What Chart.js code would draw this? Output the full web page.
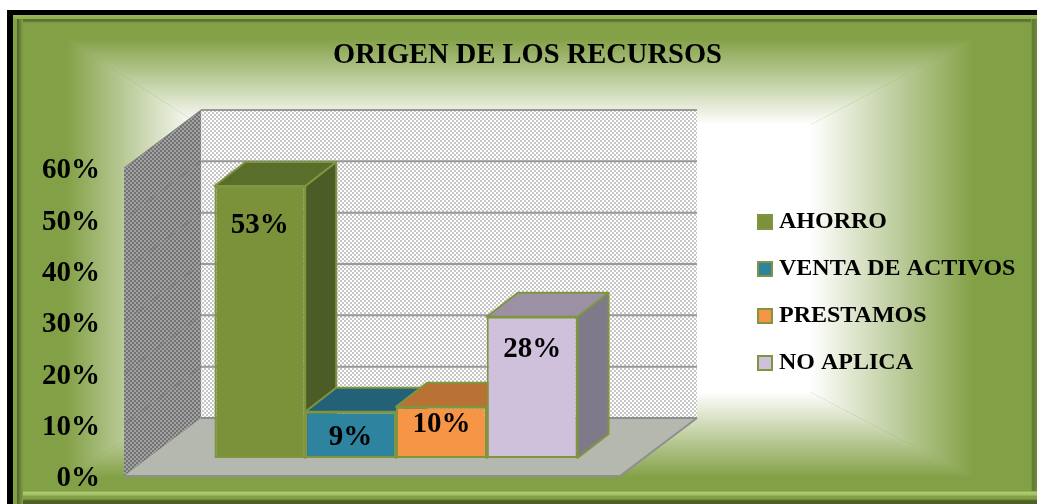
<!DOCTYPE html>
<html><head><meta charset="utf-8">
<style>html,body{margin:0;padding:0;background:#fff}canvas{display:block}#w{position:relative;width:1037px;height:504px;overflow:hidden}</style>
<script src="https://cdn.jsdelivr.net/npm/chart.js@4"></script>
</head><body><div id="w"><canvas id="c" width="1037" height="504"></canvas></div>
<script>
const titleText = 'ORIGEN DE LOS RECURSOS';
const categories = [''];
const seriesNames = ['AHORRO', 'VENTA DE ACTIVOS', 'PRESTAMOS', 'NO APLICA'];
const ahorro = [53];
const ventaDeActivos = [9];
const prestamos = [10];
const noAplica = [27.5];
const seriesValues = [ahorro, ventaDeActivos, prestamos, noAplica];
const frontColors = ['#7B923B', '#2E849E', '#F79546', '#CFC1DB'];
const topColors = ['#5A6E2C', '#226177', '#B97233', '#9C91A4'];
const sideColors = ['#4C5C26', '#1C5163', '#96602B', '#7F7A8A'];
const labelDrops = [40, 26, 18, 33];
const FONT = '"Liberation Serif", serif';

const swatch = (fill) => {
  const s = document.createElement('canvas'); s.width = 16; s.height = 16;
  const g = s.getContext('2d');
  g.fillStyle = '#7F953F'; g.fillRect(0, 0, 16, 16);
  g.fillStyle = fill; g.fillRect(2, 2, 12, 12);
  return s;
};
const checker = (a, b, n) => {
  const s = document.createElement('canvas'); s.width = 2 * n; s.height = 2 * n;
  const g = s.getContext('2d');
  g.fillStyle = a; g.fillRect(0, 0, 2 * n, 2 * n);
  g.fillStyle = b; g.fillRect(0, 0, n, n); g.fillRect(n, n, n, n);
  return s;
};
const poly = (ctx, pts) => {
  ctx.beginPath(); pts.forEach((p, i) => i ? ctx.lineTo(p[0], p[1]) : ctx.moveTo(p[0], p[1])); ctx.closePath();
};

const GREEN = '#82A045';
const sceneBg = {
  id: 'sceneBg',
  beforeDraw(chart) {
    const ctx = chart.ctx;
    ctx.save();
    ctx.fillStyle = '#fff'; ctx.fillRect(0, 0, 1037, 504);
    ctx.fillStyle = '#000'; ctx.fillRect(7, 10, 1030, 494);
    ctx.fillStyle = GREEN; ctx.fillRect(13, 15, 1024, 489);
    const W = {l: 200, t: 125, r: 810, b: 392}, O = {l: 65, t: 38, r: 975, b: 478};
    const ext = (wx, wy, ox, oy) => [wx + (ox - wx) * 3, wy + (oy - wy) * 3];
    const tl = ext(W.l, W.t, O.l, O.t), tr = ext(W.r, W.t, O.r, O.t), bl = ext(W.l, W.b, O.l, O.b), br = ext(W.r, W.b, O.r, O.b);
    const sector = (pts, x0, y0, x1, y1) => {
      const g = ctx.createLinearGradient(x0, y0, x1, y1);
      g.addColorStop(0, GREEN); g.addColorStop(1, '#FFFFFF');
      ctx.fillStyle = g; poly(ctx, pts); ctx.fill();
    };
    ctx.save(); ctx.beginPath(); ctx.rect(13, 15, 1024, 489); ctx.clip();
    sector([tl, tr, [W.r, W.t], [W.l, W.t]], 0, O.t, 0, W.t);
    sector([bl, br, [W.r, W.b], [W.l, W.b]], 0, O.b, 0, W.b);
    sector([tl, bl, [W.l, W.b], [W.l, W.t]], O.l, 0, W.l, 0);
    sector([tr, br, [W.r, W.b], [W.r, W.t]], O.r, 0, W.r, 0);
    ctx.fillStyle = '#fff'; ctx.fillRect(W.l - .5, W.t - .5, W.r - W.l + 1, W.b - W.t + 1);
    ctx.restore();
    // bevel
    const band = (x, y, w, h, stops, vert) => {
      const g = vert ? ctx.createLinearGradient(0, y, 0, y + h) : ctx.createLinearGradient(x, 0, x + w, 0);
      stops.forEach(s => g.addColorStop(s[0], s[1]));
      ctx.fillStyle = g; ctx.fillRect(x, y, w, h);
    };
    band(13, 15, 1024, 8, [[0, '#9BBA54'], [.45, '#8FAE4E'], [.6, '#4F6129'], [1, '#82A045']], true);
    band(13, 19, 10, 485, [[0, GREEN], [.35, GREEN], [.4, '#4F6129'], [1, GREEN]], false);
    band(1031, 19, 6, 485, [[0, GREEN], [.3, '#5F7833'], [1, '#6F8A3B']], false);
    band(23, 491, 1014, 13, [[0, GREEN], [.1, '#AFCB75'], [.3, '#A2BF66'], [.4, GREEN], [.6, GREEN], [.75, '#4F6129'], [1, '#4F6129']], true);
    ctx.restore();
  }
};

const DX = 77, DY = 58, BAR_DX = 31, BAR_DY = 24, SHIFT_X = 24, SHIFT_Y = 18;
const scene3d = {
  id: 'scene3d',
  afterLayout(chart) {
    const lg = chart.legend;
    lg.left = 740; lg.right = 1037;
    lg.top = 187; lg.bottom = 504;
  },
  beforeDatasetsDraw(chart) {
    const ctx = chart.ctx, x = chart.scales.x, y = chart.scales.y;
    const L = x.left, R = x.right, y0 = y.getPixelForValue(0), y60 = y.getPixelForValue(60);
    ctx.save();
    // side wall
    ctx.fillStyle = ctx.createPattern(checker('#737373', '#A2A2A2', 2), 'repeat');
    poly(ctx, [[L, y0], [L, y60], [L + DX, y60 - DY], [L + DX, y0 - DY]]); ctx.fill();
    // back wall
    ctx.fillStyle = ctx.createPattern(checker('#FFFFFF', '#C6C6C6', 2), 'repeat');
    ctx.fillRect(L + DX, y60 - DY, R - L, y0 - y60);
    // gridlines
    y.ticks.forEach(t => {
      const py = y.getPixelForValue(t.value);
      ctx.strokeStyle = '#808080'; ctx.lineWidth = 1;
      ctx.beginPath(); ctx.moveTo(L, py); ctx.lineTo(L + DX, py - DY); ctx.stroke();
      if (t.value === 0) return;
      ctx.strokeStyle = '#999'; ctx.lineWidth = 2;
      ctx.beginPath(); ctx.moveTo(L + DX, py - DY); ctx.lineTo(R + DX, py - DY); ctx.stroke();
    });
    // floor
    ctx.fillStyle = '#B5B8AE';
    poly(ctx, [[L, y0], [R, y0], [R + DX, y0 - DY], [L + DX, y0 - DY]]); ctx.fill();
    ctx.strokeStyle = '#8E8E8E'; ctx.lineWidth = 2;
    ctx.beginPath(); ctx.moveTo(L, y0); ctx.lineTo(R, y0); ctx.lineTo(R + DX, y0 - DY); ctx.stroke();
    ctx.beginPath(); ctx.moveTo(L + DX, y0 - DY); ctx.lineTo(R + DX, y0 - DY); ctx.stroke();
    // bar depth faces
    ctx.strokeStyle = '#7F953F'; ctx.lineWidth = 2; ctx.lineJoin = 'round';
    chart.data.datasets.forEach((d, i) => {
      const b = chart.getDatasetMeta(i).data[0];
      const l = b.x - b.width / 2 + SHIFT_X, r = b.x + b.width / 2 + SHIFT_X, t = b.y - SHIFT_Y, g = b.base - SHIFT_Y;
      ctx.fillStyle = sideColors[i];
      poly(ctx, [[r, t], [r + BAR_DX, t - BAR_DY], [r + BAR_DX, g - BAR_DY], [r, g]]); ctx.fill(); ctx.stroke();
      ctx.fillStyle = topColors[i];
      poly(ctx, [[l, t], [r, t], [r + BAR_DX, t - BAR_DY], [l + BAR_DX, t - BAR_DY]]); ctx.fill(); ctx.stroke();
    });
    ctx.restore();
    ctx.save();
    ctx.translate(SHIFT_X, -SHIFT_Y);
  },
  afterDatasetsDraw(chart) {
    const ctx = chart.ctx;
    ctx.restore();
    ctx.save();
    ctx.font = 'bold 29px ' + FONT;
    ctx.fillStyle = '#000'; ctx.textAlign = 'center'; ctx.textBaseline = 'middle';
    chart.data.datasets.forEach((d, i) => {
      const b = chart.getDatasetMeta(i).data[0];
      ctx.fillText(Math.round(d.data[0]) + '%', b.x + SHIFT_X, b.y - SHIFT_Y + labelDrops[i]);
    });
    ctx.restore();
  }
};

new Chart(document.getElementById('c'), {
  type: 'bar',
  data: {
    labels: categories,
    datasets: seriesNames.map((n, i) => ({
      label: n, data: seriesValues[i], backgroundColor: frontColors[i],
      borderColor: '#7F953F', borderWidth: 2, borderSkipped: false, barPercentage: 1, categoryPercentage: 0.732
    }))
  },
  options: {
    responsive: false, animation: false, devicePixelRatio: 1,
    layout: {padding: {left: 36, right: 18, top: 0, bottom: 28}},
    scales: {
      x: {display: false},
      y: {
        min: 0, max: 60,
        grid: {display: false, drawTicks: true, tickLength: 24}, border: {display: false},
        ticks: {stepSize: 10, padding: 0, labelOffset: 3, color: '#000', font: {family: FONT, weight: 'bold', size: 29}, callback: v => v + '%'},
        afterFit(s) { s.width = 88; }
      },
      pad: {
        position: 'right', display: true, min: 0, max: 1,
        grid: {display: false, drawTicks: false}, border: {display: false}, ticks: {display: false},
        afterFit(s) { s.width = 399 - s.chart.legend.width; }
      }
    },
    plugins: {
      tooltip: {enabled: false},
      title: {display: true, text: titleText, color: '#000', font: {family: FONT, weight: 'bold', size: 28.5, lineHeight: 1.2}, padding: {top: 39, bottom: 94.8}},
      legend: {
        position: 'right', align: 'start', maxWidth: 320,
        labels: {
          color: '#000', boxWidth: 4, padding: 23, usePointStyle: true,
          font: {family: FONT, weight: 'bold', size: 24},
          generateLabels(chart) {
            const items = Chart.defaults.plugins.legend.labels.generateLabels(chart);
            items.forEach((it, i) => { it.pointStyle = swatch(frontColors[i]); });
            return items;
          }
        }
      }
    }
  },
  plugins: [sceneBg, scene3d]
});
</script></body></html>
